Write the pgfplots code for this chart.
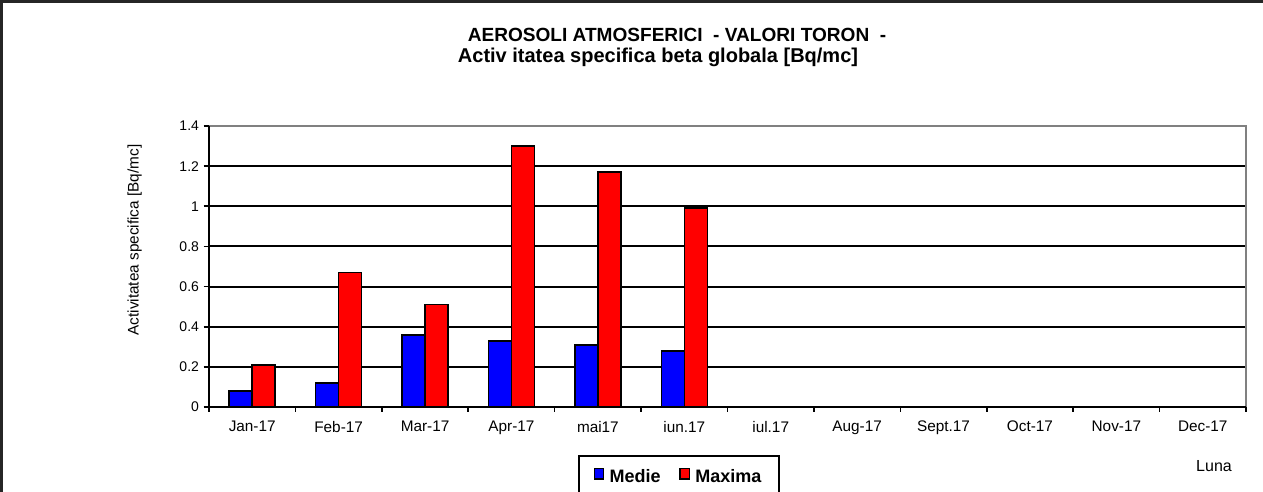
\documentclass[border=0pt]{standalone}
\usepackage{pgfplots}
\pgfplotsset{compat=1.18}
\usepackage{fontspec}
\setmainfont{Liberation Sans}
\definecolor{mblue}{RGB}{0,0,255}
\definecolor{mred}{RGB}{255,0,0}
\begin{document}
\begin{tikzpicture}
\useasboundingbox (0,0) rectangle (947.25pt,369pt);
\draw[line width=2.2pt,black!85] (1pt,0pt) -- (1pt,368pt) -- (947.25pt,368pt);
\begin{axis}[
  at={(156.75pt,63.75pt)}, anchor=south west,
  scale only axis,
  width=777.75pt, height=210.75pt,
  xmin=-0.5, xmax=11.5, ymin=0, ymax=1.4,
  ybar=0pt, bar width=17.25pt,
  xtick={0,...,11},
  xticklabels={Jan-17,Feb-17,Mar-17,Apr-17,mai17,iun.17,iul.17,Aug-17,Sept.17,Oct-17,Nov-17,Dec-17},
  major x tick style={draw=none},
  minor xtick={-0.5,0.5,...,11.5},
  minor tick length=3.5pt,
  ytick={0,0.2,...,1.4},
  yticklabels={0,0.2,0.4,0.6,0.8,1,1.2,1.4},
  major tick length=4pt,
  tick align=outside,
  tick style={black, line width=1.2pt},
  xtick pos=bottom, ytick pos=left,
  ymajorgrids,
  grid style={black, line width=1.5pt},
  axis line style={draw=none},
  yticklabel style={font=\fontsize{10.5}{12}\selectfont},
  xticklabel style={font=\fontsize{11.5}{13}\selectfont, yshift=-3pt},
  /pgf/number format/assume math mode=true,
  legend style={at={(0.3558,-0.1708)}, anchor=north west, draw=black, line width=1.5pt,
    font=\fontsize{13.5}{15}\selectfont\bfseries, legend columns=2,
    inner xsep=11pt, inner ysep=8pt,
    /tikz/every odd column/.append style={column sep=2pt},
    /tikz/every even column/.append style={column sep=12pt}},
  legend image code/.code={\draw[line width=1pt,#1] (0pt,-1.5pt) rectangle (7pt,6.5pt);},
  clip=false,
]
\addplot[fill=mblue, draw=black, line width=1.2pt] coordinates {(0,0.08) (1,0.12) (2,0.36) (3,0.33) (4,0.31) (5,0.28)};
\addplot[fill=mred, draw=black, line width=1.2pt] coordinates {(0,0.21) (1,0.67) (2,0.51) (3,1.30) (4,1.17) (5,0.99)};
\legend{Medie,Maxima}
\draw[black!50, line width=1.5pt] (rel axis cs:0,1) -- (rel axis cs:1,1) -- (rel axis cs:1,0);
\draw[black, line width=1.8pt] (rel axis cs:0,1) -- (rel axis cs:0,0) -- (rel axis cs:1,0);
\end{axis}
\node[font=\fontsize{14.3}{16}\selectfont\bfseries] at (507.75pt,342.75pt) {AEROSOLI ATMOSFERICI \ - VALORI TORON \ -};
\node[font=\fontsize{15}{16}\selectfont\bfseries] at (493.5pt,326.25pt) {Activ itatea specifica beta globala [Bq/mc]};
\node[rotate=90, font=\fontsize{11.5}{13}\selectfont] at (101pt,189pt) {Activitatea specifica [Bq/mc]};
\node[font=\fontsize{12}{14}\selectfont] at (910.5pt,19.5pt) {Luna};
\end{tikzpicture}
\end{document}
